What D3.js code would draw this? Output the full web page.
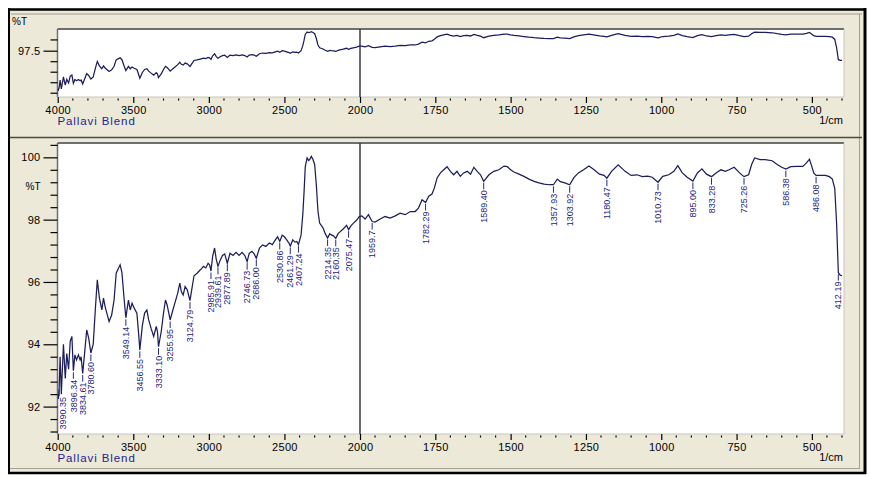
<!DOCTYPE html>
<html><head><meta charset="utf-8">
<script src="https://cdn.jsdelivr.net/npm/d3@7"></script>
<style>
html,body{margin:0;padding:0;background:#fff;}
svg{display:block;}
text{font-family:"Liberation Sans",Arial,sans-serif;}
</style></head>
<body>
<svg id="chart" width="870" height="477"></svg>
<script>
// ---------------- DATA ----------------
const wavenumbers = [4000,3995,3990.35,3984,3976,3962,3950,3940,3928,3917,3906,3896.34,3886,3875,3863,3852,3845,3834.61,3820,3808,3795,3780.60,3765,3750,3738,3724,3708,3697,3686,3675,3660,3643,3627,3613,3598,3587,3575,3560,3549.14,3532,3520,3508,3494,3476,3464,3456.55,3440,3425,3410,3398,3382,3365,3348,3340,3333.10,3315,3300,3287,3276,3265,3255.95,3238,3222,3206,3192,3182,3170,3157,3143,3124.79,3110,3098,3078,3056,3035,3020,3005,2995,2985.91,2975,2962,2952,2939.61,2925,2910,2895,2877.89,2860,2840,2820,2800,2780,2762,2746.73,2733,2715,2700,2686.00,2665,2645,2623,2600,2580,2560,2545,2530.86,2515,2500,2485,2470,2461.29,2445,2430,2418,2407.24,2390,2378,2370,2362,2350,2340,2333,2322,2311,2300,2289,2278,2267,2244,2230,2214.35,2200,2190,2175,2160.35,2145,2134,2111,2089,2075.47,2060,2045,2023,2005,1994,1983,1972,1959.7,1950,1933,1917,1900,1883,1867,1850,1833,1817,1806,1794,1782.29,1772,1761,1753,1744,1733,1722,1711,1700,1689,1678,1667,1656,1644,1633,1622,1611,1600,1589.40,1572,1556,1539,1522,1511,1500,1489,1472,1456,1439,1422,1406,1389,1372,1357.93,1345,1335,1320,1303.92,1290,1275,1258,1240,1225,1205,1190,1180.47,1165,1143,1120,1100,1080,1063,1045,1030,1010.73,995,975,958,945,930,914,895.00,880,865,850,833.28,818,802,787,775,758,740,725.26,710,700,690,672,655,632,615,600,586.38,570,550,530,518,508,500,494,486.08,470,455,442,432,424,418,414,412.19,406,400];
const transmittance = [92.4,92.25,92.6,93.6,92.4,94.0,92.9,93.7,93.2,94.1,94.25,93.15,93.66,93.5,93.66,93.5,93.6,93.06,93.82,94.46,94.2,93.72,94.0,95.2,96.07,95.48,95.1,95.48,95.2,95.0,94.73,94.94,95.42,96.28,96.44,96.55,96.3,95.42,94.85,95.42,95.1,95.32,95.16,95.0,94.3,93.82,94.6,95.0,95.1,94.78,94.51,94.25,94.57,94.41,93.92,94.41,95.0,95.42,95.26,95.0,94.78,95.1,95.37,95.64,95.96,95.69,95.58,95.85,95.75,95.4,95.85,96.2,96.28,96.39,96.5,96.45,96.6,96.55,96.35,96.82,97.09,96.75,96.5,96.7,96.85,96.9,96.6,96.92,96.85,96.95,96.85,96.95,96.85,96.65,96.92,96.98,96.9,96.76,97.09,97.19,97.14,97.25,97.2,97.35,97.45,97.3,97.5,97.45,97.35,97.25,97.15,97.35,97.28,97.3,97.2,97.5,98.2,98.9,99.7,99.98,99.9,99.93,100.03,99.93,99.77,99.12,98.26,97.89,97.73,97.55,97.41,97.55,97.51,97.48,97.4,97.55,97.6,97.7,97.82,97.68,97.8,97.88,97.98,98.1,98.12,98.02,98.16,97.94,97.92,98.02,98.1,98.05,98.12,98.21,98.16,98.26,98.26,98.37,98.64,98.55,98.75,98.82,99.02,99.34,99.5,99.6,99.7,99.55,99.44,99.55,99.39,99.5,99.55,99.46,99.68,99.55,99.44,99.23,99.44,99.55,99.6,99.72,99.7,99.6,99.53,99.46,99.39,99.3,99.23,99.18,99.14,99.12,99.12,99.3,99.22,99.18,99.12,99.35,99.5,99.6,99.72,99.62,99.46,99.42,99.33,99.55,99.76,99.55,99.42,99.44,99.38,99.4,99.36,99.2,99.39,99.44,99.55,99.73,99.5,99.36,99.24,99.5,99.63,99.46,99.38,99.5,99.6,99.55,99.6,99.68,99.5,99.38,99.44,99.77,99.98,99.93,99.93,99.89,99.77,99.68,99.62,99.7,99.71,99.71,99.82,99.94,99.7,99.5,99.42,99.42,99.42,99.38,99.3,99.0,97.9,96.8,96.3,96.22,96.2];

const peakWavenumbers = [3990.35,3896.34,3834.61,3780.60,3549.14,3456.55,3333.10,3255.95,3124.79,2985.91,2939.61,2877.89,2746.73,2686.00,2530.86,2461.29,2407.24,2214.35,2160.35,2075.47,1959.7,1782.29,1589.40,1357.93,1303.92,1180.47,1010.73,895.00,833.28,725.26,586.38,486.08,412.19];
const peakLabels = ["3990.35","3896.34","3834.61","3780.60","3549.14","3456.55","3333.10","3255.95","3124.79","2985.91","2939.61","2877.89","2746.73","2686.00","2530.86","2461.29","2407.24","2214.35","2160.35","2075.47","1959.7","1782.29","1589.40","1357.93","1303.92","1180.47","1010.73","895.00","833.28","725.26","586.38","486.08","412.19"];

const xMajorTicks = [4000,3500,3000,2500,2000,1750,1500,1250,1000,750,500];
const xTickLabels = ["4000","3500","3000","2500","2000","1750","1500","1250","1000","750","500"];
const yMainMajor = [92,94,96,98,100];
const yMainLabels = ["92","94","96","98","100"];
const yTopMinor = [99.0,96.1,94.7,93.3,91.9];
const yTopMajor = [97.5];
const yTopLabels = ["97.5"];
const sampleName = "Pallavi Blend";
const xUnit = "1/cm";
const yUnit = "%T";

// ---------------- LAYOUT ----------------
const svg = d3.select("#chart");
const NAVY = "#1d1d5e";
const LBL = "#25257f";
const FR = {l:57.5, r:844};
const topP = {t:29, b:97};
const botP = {t:143, b:434};

const x = d3.scaleLinear().domain([4000,2000,400]).range([57.7,360,842]);
const yTop = d3.scaleLinear().domain([91.33,100.39]).range([topP.b, topP.t]);
const yBot = d3.scaleLinear().domain([91.12,100.46]).range([botP.b, botP.t]);

const data = wavenumbers.map((w,i)=>({w, t: transmittance[i]}));

// frame / window
svg.append("rect").attr("x",8).attr("y",8).attr("width",857).attr("height",466).attr("fill","#ece9d8");
svg.append("line").attr("x1",8).attr("x2",866).attr("y1",9.5).attr("y2",9.5).attr("stroke","#000").attr("stroke-width",2.5);
svg.append("line").attr("x1",9).attr("x2",9).attr("y1",8).attr("y2",474).attr("stroke","#000").attr("stroke-width",2);
svg.append("line").attr("x1",8).attr("x2",866).attr("y1",473).attr("y2",473).attr("stroke","#000").attr("stroke-width",2.5);
svg.append("line").attr("x1",865).attr("x2",865).attr("y1",8).attr("y2",474).attr("stroke","#000").attr("stroke-width",3);
svg.append("line").attr("x1",11).attr("x2",862).attr("y1",14).attr("y2",14).attr("stroke","#9d9b90").attr("stroke-width",1);
svg.append("line").attr("x1",859.5).attr("x2",859.5).attr("y1",14).attr("y2",469).attr("stroke","#a3a196").attr("stroke-width",1);
svg.append("line").attr("x1",10).attr("x2",862).attr("y1",137.5).attr("y2",137.5).attr("stroke","#4a4a4a").attr("stroke-width",1.5);
svg.append("line").attr("x1",10).attr("x2",860).attr("y1",468.5).attr("y2",468.5).attr("stroke","#a3a196").attr("stroke-width",1);

function panel(p, yScale, clipId){
  const g = svg.append("g");
  g.append("rect").attr("x",FR.l).attr("y",p.t).attr("width",FR.r-FR.l).attr("height",p.b-p.t).attr("fill","#fff");
  g.append("line").attr("x1",FR.l).attr("x2",FR.r).attr("y1",p.t).attr("y2",p.t).attr("stroke","#6e6e6e").attr("stroke-width",2);
  g.append("line").attr("x1",FR.l).attr("x2",FR.l).attr("y1",p.t).attr("y2",p.b).attr("stroke","#6e6e6e").attr("stroke-width",1.5);
  g.append("line").attr("x1",FR.r).attr("x2",FR.r).attr("y1",p.t).attr("y2",p.b).attr("stroke","#c8c6bc").attr("stroke-width",1);
  g.append("line").attr("x1",FR.l).attr("x2",FR.r).attr("y1",p.b).attr("y2",p.b).attr("stroke","#c8c6bc").attr("stroke-width",1);
  svg.append("clipPath").attr("id",clipId).append("rect")
    .attr("x",FR.l).attr("y",p.t).attr("width",FR.r-FR.l).attr("height",p.b-p.t);
  g.append("line").attr("x1",x(2000)).attr("x2",x(2000)).attr("y1",p.t).attr("y2",p.b)
    .attr("stroke","#3c3c3c").attr("stroke-width",1.5);
  const line = d3.line().x(d=>x(d.w)).y(d=>yScale(d.t));
  g.append("path").datum(data).attr("d",line).attr("fill","none")
    .attr("stroke",NAVY).attr("stroke-width",1.25).attr("clip-path",`url(#${clipId})`);
  const ax = d3.axisBottom(x).tickValues(xMajorTicks).tickSize(6).tickFormat((d,i)=>xTickLabels[i]).tickPadding(3);
  const axg = g.append("g").attr("transform",`translate(0,${p.b})`).call(ax);
  axg.select(".domain").remove();
  axg.selectAll(".tick line").attr("stroke","#000").attr("stroke-width",1.2);
  axg.selectAll(".tick text").attr("fill","#000").style("font-size","11px").style("letter-spacing","0.3px");
  const minor = d3.range(3900,2000,-100).filter(v=>v%500!==0).concat(d3.range(1950,399,-50).filter(v=>v%250!==0));
  g.selectAll(null).data(minor).enter().append("line")
    .attr("x1",d=>x(d)).attr("x2",d=>x(d)).attr("y1",p.b+1.5).attr("y2",p.b+3.5)
    .attr("stroke","#000").attr("stroke-width",1.2);
  g.append("text").attr("x",57.5).attr("y",p.b+27.5).attr("fill","#232391")
    .style("font-size","11.5px").style("letter-spacing","0.9px").text(sampleName);
  g.append("text").attr("x",843).attr("y",p.b+27).attr("text-anchor","end").attr("fill","#000")
    .style("font-size","11px").text(xUnit);
  return g;
}

// ---------- top panel ----------
const gTop = panel(topP, yTop, "clipTop");
const aT1 = gTop.append("g").attr("transform",`translate(${FR.l},0)`)
  .call(d3.axisLeft(yTop).tickValues(yTopMinor).tickSize(7).tickFormat(""));
aT1.select(".domain").remove();
aT1.selectAll(".tick line").attr("stroke","#000").attr("stroke-width",1.2);
const aT2 = gTop.append("g").attr("transform",`translate(${FR.l},0)`)
  .call(d3.axisLeft(yTop).tickValues(yTopMajor).tickSize(14).tickPadding(3).tickFormat((d,i)=>yTopLabels[i]));
aT2.select(".domain").remove();
aT2.selectAll(".tick line").attr("stroke","#000").attr("stroke-width",1.2);
aT2.selectAll(".tick text").attr("fill","#000").style("font-size","11px").style("letter-spacing","0.3px");
svg.append("text").attr("x",12).attr("y",25).attr("fill","#000").style("font-size","10px").text(yUnit);

// ---------- bottom panel ----------
const gBot = panel(botP, yBot, "clipBot");
const yMainMinor = d3.range(91.2,100.5,0.4).filter(v=>Math.abs(v-Math.round(v))>0.05 || Math.round(v)%2!==0);
const aB1 = gBot.append("g").attr("transform",`translate(${FR.l},0)`)
  .call(d3.axisLeft(yBot).tickValues(yMainMinor).tickSize(7).tickFormat(""));
aB1.select(".domain").remove();
aB1.selectAll(".tick line").attr("stroke","#000").attr("stroke-width",1.2);
const aB2 = gBot.append("g").attr("transform",`translate(${FR.l},0)`)
  .call(d3.axisLeft(yBot).tickValues(yMainMajor).tickSize(14).tickPadding(3).tickFormat((d,i)=>yMainLabels[i]));
aB2.select(".domain").remove();
aB2.selectAll(".tick line").attr("stroke","#000").attr("stroke-width",1.2);
aB2.selectAll(".tick text").attr("fill","#000").style("font-size","11px").style("letter-spacing","0.3px");
gBot.append("text").attr("x",40.5).attr("y",yBot(99.07)+3.5).attr("text-anchor","end").attr("fill","#000")
  .style("font-size","10px").text(yUnit);

// peak labels
const peaks = peakWavenumbers.map((w,i)=>{
  const idx = wavenumbers.indexOf(w);
  return {w, t: transmittance[idx], label: peakLabels[i]};
});
const pg = gBot.append("g").attr("clip-path","url(#clipBot)");
peaks.forEach(p=>{
  const px = x(p.w), py = yBot(p.t);
  const tx = Math.max(px, FR.l + 5);
  pg.append("line").attr("x1",px).attr("x2",px).attr("y1",py+1.5).attr("y2",py+8)
    .attr("stroke",LBL).attr("stroke-width",1);
  pg.append("text").attr("transform",`translate(${tx},${py+9}) rotate(-90)`)
    .attr("text-anchor","end").attr("dy","0.35em").attr("fill",LBL)
    .style("font-size","9px").text(p.label);
});
</script>
</body></html>
